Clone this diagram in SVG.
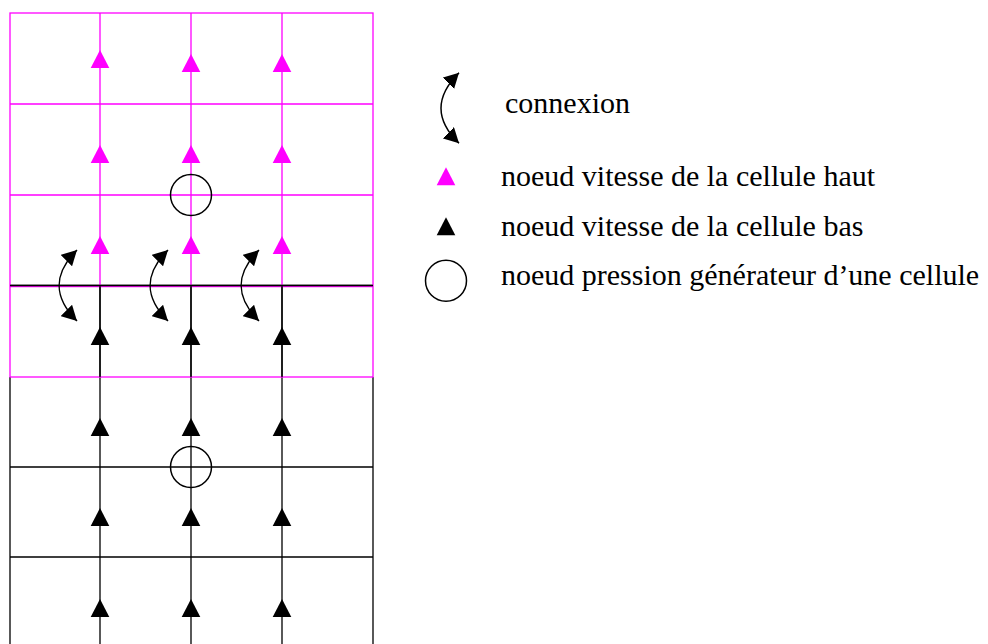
<svg xmlns="http://www.w3.org/2000/svg" xmlns:xlink="http://www.w3.org/1999/xlink" width="988" height="644" viewBox="0 0 988 644">
<style>
.gm{stroke:#ff00ff;stroke-width:1.3;fill:none}
.gb{stroke:#000;stroke-width:1.3;fill:none}
.tm{fill:#ff00ff}
.tb{fill:#000}
.pc{fill:none;stroke:#000;stroke-width:1.5}
.cx{fill:none;stroke:#000;stroke-width:1.5;marker-start:url(#ah);marker-end:url(#ah)}
.lbl{font-size:30px;fill:#000}
</style>
<defs>
<marker id="ah" viewBox="0 0 15 16" refX="15" refY="8" markerWidth="15" markerHeight="16" markerUnits="userSpaceOnUse" orient="auto-start-reverse">
<path d="M0,0 L15,8 L0,16 z" fill="#000"/>
</marker>
<polygon id="tri" points="0,0 9.3,18 -9.3,18"/>
</defs>
<rect width="988" height="644" fill="#fff"/>
<g id="grid-bas">
<path class="gb" d="M10,285.5 H373 M10,467 H373 M10,557 H373 M10,377 V644 M373,377 V644 M100,285 V644 M191,285 V644 M282,285 V644"/>
</g>
<g id="grid-haut">
<rect class="gm" x="10" y="13" width="363" height="364"/>
<path class="gm" d="M10,104 H373 M10,195 H373 M10,286.7 H373 M100,13 V285 M191,13 V285 M282,13 V285"/>
<path class="gb" d="M10,285.5 H373 M100,286 V377 M191,286 V377 M282,286 V377"/>
</g>
<g id="noeuds-haut">
<use xlink:href="#tri" class="tm" x="100" y="50"/>
<use xlink:href="#tri" class="tm" x="191" y="54"/>
<use xlink:href="#tri" class="tm" x="282" y="54"/>
<use xlink:href="#tri" class="tm" x="100" y="145"/>
<use xlink:href="#tri" class="tm" x="191" y="145"/>
<use xlink:href="#tri" class="tm" x="282" y="145"/>
<use xlink:href="#tri" class="tm" x="100" y="236"/>
<use xlink:href="#tri" class="tm" x="191" y="236"/>
<use xlink:href="#tri" class="tm" x="282" y="236"/>
</g>
<g id="noeuds-bas">
<use xlink:href="#tri" class="tb" x="100" y="327"/>
<use xlink:href="#tri" class="tb" x="191" y="327"/>
<use xlink:href="#tri" class="tb" x="282" y="327"/>
<use xlink:href="#tri" class="tb" x="100" y="418"/>
<use xlink:href="#tri" class="tb" x="191" y="418"/>
<use xlink:href="#tri" class="tb" x="282" y="418"/>
<use xlink:href="#tri" class="tb" x="100" y="508"/>
<use xlink:href="#tri" class="tb" x="191" y="508"/>
<use xlink:href="#tri" class="tb" x="282" y="508"/>
<use xlink:href="#tri" class="tb" x="100" y="599"/>
<use xlink:href="#tri" class="tb" x="191" y="599"/>
<use xlink:href="#tri" class="tb" x="282" y="599"/>
</g>
<g id="pression-haut"><circle class="pc" cx="191" cy="195" r="20.5"/></g>
<g id="pression-bas"><circle class="pc" cx="191" cy="467" r="20.5"/></g>
<g id="connexions">
<path class="cx" d="M77,250 C53,274 53,297 77,321"/>
<path class="cx" d="M168,250 C144,274 144,297 168,321"/>
<path class="cx" d="M259,250 C235,274 235,297 259,321"/>
</g>
<g id="legende" font-family="'Liberation Serif', 'Times New Roman', 'DejaVu Serif', serif">
<g id="legende-connexion">
<path class="cx" d="M459,72.7 C435,96.7 435,119.7 459,143.3"/>
<text class="lbl" x="505" y="113">connexion</text>
</g>
<g id="legende-haut">
<use xlink:href="#tri" class="tm" x="446" y="167.3"/>
<text class="lbl" x="501" y="186">noeud vitesse de la cellule haut</text>
</g>
<g id="legende-bas">
<use xlink:href="#tri" class="tb" x="446" y="217.3"/>
<text class="lbl" x="501" y="236">noeud vitesse de la cellule bas</text>
</g>
<g id="legende-pression">
<circle class="pc" cx="446" cy="280.7" r="20.5"/>
<text class="lbl" x="501" y="285">noeud pression générateur d’une cellule</text>
</g>
</g>
</svg>
